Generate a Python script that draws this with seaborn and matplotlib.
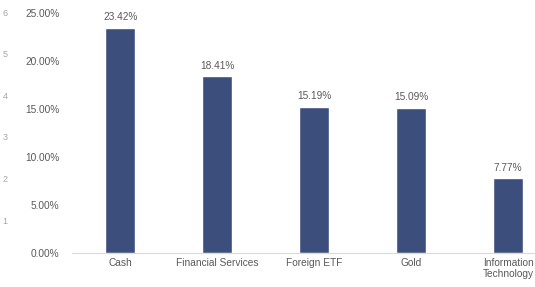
import matplotlib
matplotlib.use("Agg")
import matplotlib.pyplot as plt
import matplotlib.ticker as mticker
import seaborn as sns
import pandas as pd

categories = ["Cash", "Financial Services", "Foreign ETF", "Gold", "Information\nTechnology"]
weights = [23.42, 18.41, 15.19, 15.09, 7.77]
yticks = [0, 5, 10, 15, 20, 25]
side_labels = ["1", "2", "3", "4", "5", "6"]
side_levels = [3.33, 7.67, 12.0, 16.33, 20.67, 25.0]  # where the clipped labels sit, in % units

BAR = "#3C4F7C"
GREY = "#595959"

sns.set_theme(style="white")
plt.rcParams["font.family"] = ["Liberation Sans", "DejaVu Sans"]

df = pd.DataFrame({"category": categories, "weight": weights})

fig = plt.figure(figsize=(5.35, 2.87), dpi=100)
ax = fig.add_axes([72 / 535, 1 - 253 / 287, (556.5 - 72) / 535, 240 / 287])
sns.barplot(data=df, x="category", y="weight", color=BAR, width=0.31,
            saturation=1, ax=ax)

for i, v in enumerate(weights):
    ax.text(i, v + 0.6, f"{v:.2f}%", ha="center", va="bottom", fontsize=7.3, color=GREY)

ax.set_ylim(0, 25)
ax.set_yticks(yticks)
ax.yaxis.set_major_formatter(mticker.FuncFormatter(lambda v, _: f"{v:.2f}%"))
ax.set_xlabel("")
ax.set_ylabel("")
ax.tick_params(axis="both", labelsize=7.3, colors=GREY, length=0)
ax.tick_params(axis="y", pad=9)
for s in ["top", "right", "left"]:
    ax.spines[s].set_visible(False)
ax.spines["bottom"].set_color("#D9D9D9")
ax.spines["bottom"].set_linewidth(0.8)

# clipped secondary-axis labels at the far left edge
trans = ax.get_yaxis_transform()
for lab, t in zip(side_labels, side_levels):
    ax.text(-67 / 484.5, t, lab, transform=trans, fontsize=6.5, color="#A6A6A6",
            ha="center", va="center", clip_on=False)

fig.savefig("out.png", dpi=100, facecolor="white")
